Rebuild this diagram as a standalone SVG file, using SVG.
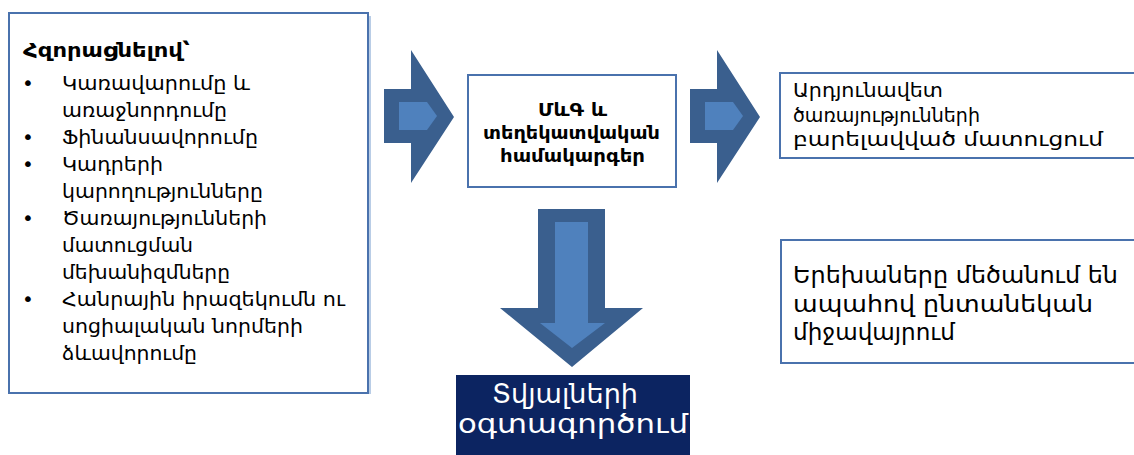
<svg xmlns="http://www.w3.org/2000/svg" width="1134" height="455" viewBox="0 0 1134 455">
  <defs>
    <style>
      .box { fill: #ffffff; stroke: #4a72ad; stroke-width: 2; }
      .arrow-out { fill: #3a5f8e; }
      .arrow-in { fill: #4f81bd; }
      .t { font-family: "DejaVu Sans", "Noto Sans", sans-serif; fill: #000000; }
      .list text { font-size: 20px; }
      .head { font-size: 20px; font-weight: bold; }
      .mid { font-size: 17px; font-weight: bold; }
      .r1 { font-size: 20px; }
      .r2 { font-size: 23px; }
      .navy-t { font-family: "DejaVu Sans", "Noto Sans", sans-serif; fill: #ffffff; font-size: 26px; }
    </style>
  </defs>
  <rect width="1134" height="455" fill="#ffffff"/>

  <!-- connectors: block arrows -->
  <g id="connectors">
    <g id="arrow-right-1">
      <path class="arrow-out" d="M384,89 H411 V50 L454,117 L411,183 V143 H384 Z"/>
      <path class="arrow-in" d="M399,102 H427 L437,116 L427,130 H399 Z"/>
    </g>
    <g id="arrow-right-2" transform="translate(306,0)">
      <path class="arrow-out" d="M384,89 H411 V50 L454,117 L411,183 V143 H384 Z"/>
      <path class="arrow-in" d="M399,102 H427 L437,116 L427,130 H399 Z"/>
    </g>
    <g id="arrow-down">
      <path class="arrow-out" d="M538,209 H605 V308 H643 L572,367 L500,308 H538 Z"/>
      <path class="arrow-in" d="M555,222 H588 V323 H605 L572,348 L540,323 H555 Z"/>
    </g>
  </g>

  <!-- left: strengthening list -->
  <g id="node-strengthening">
    <rect x="369" y="16" width="2" height="378" fill="#b9cde6"/>
    <rect class="box" x="9" y="13" width="359" height="380"/>
    <text class="t head" x="23" y="57" textLength="167" lengthAdjust="spacingAndGlyphs">Հզորացնելով՝</text>
    <g class="t list">
      <text x="22" y="90">•</text>
      <text x="62" y="90" textLength="188" lengthAdjust="spacingAndGlyphs">Կառավարումը և</text>
      <text x="62" y="117" textLength="165" lengthAdjust="spacingAndGlyphs">առաջնորդումը</text>
      <text x="22" y="144">•</text>
      <text x="62" y="144" textLength="196" lengthAdjust="spacingAndGlyphs">Ֆինանսավորումը</text>
      <text x="22" y="171">•</text>
      <text x="62" y="171" textLength="101" lengthAdjust="spacingAndGlyphs">Կադրերի</text>
      <text x="62" y="198" textLength="201" lengthAdjust="spacingAndGlyphs">կարողությունները</text>
      <text x="22" y="225">•</text>
      <text x="62" y="225" textLength="205" lengthAdjust="spacingAndGlyphs">Ծառայությունների</text>
      <text x="62" y="252" textLength="131" lengthAdjust="spacingAndGlyphs">մատուցման</text>
      <text x="62" y="279" textLength="168" lengthAdjust="spacingAndGlyphs">մեխանիզմները</text>
      <text x="22" y="306">•</text>
      <text x="62" y="306" textLength="283" lengthAdjust="spacingAndGlyphs">Հանրային իրազեկումն ու</text>
      <text x="62" y="333" textLength="241" lengthAdjust="spacingAndGlyphs">սոցիալական նորմերի</text>
      <text x="62" y="360" textLength="135" lengthAdjust="spacingAndGlyphs">ձևավորումը</text>
    </g>
  </g>

  <!-- centre: M&E information systems -->
  <g id="node-mne">
    <rect class="box" x="468" y="75" width="208" height="112"/>
    <text class="t mid" x="538" y="116" textLength="69" lengthAdjust="spacingAndGlyphs">ՄևԳ և</text>
    <text class="t mid" x="483" y="139" textLength="177" lengthAdjust="spacingAndGlyphs">տեղեկատվական</text>
    <text class="t mid" x="500" y="162" textLength="145" lengthAdjust="spacingAndGlyphs">համակարգեր</text>
  </g>

  <!-- bottom: data use -->
  <g id="node-data-use">
    <rect x="456" y="375" width="234" height="85" fill="#0c2461"/>
    <text class="navy-t" x="492" y="403" textLength="146" lengthAdjust="spacingAndGlyphs">Տվյալների</text>
    <text class="navy-t" x="458" y="433" textLength="230" lengthAdjust="spacingAndGlyphs">օգտագործում</text>
  </g>

  <!-- right: improved service delivery -->
  <g id="node-services">
    <rect class="box" x="780" y="73" width="370" height="85"/>
    <text class="t r1" x="793" y="97" textLength="150" lengthAdjust="spacingAndGlyphs">Արդյունավետ</text>
    <text class="t r1" x="793" y="122" textLength="187" lengthAdjust="spacingAndGlyphs">ծառայությունների</text>
    <text class="t r1" x="793" y="146" textLength="310" lengthAdjust="spacingAndGlyphs">բարելավված մատուցում</text>
  </g>

  <!-- right: family environment outcome -->
  <g id="node-outcome">
    <rect class="box" x="781" y="240" width="370" height="123"/>
    <text class="t r2" x="793" y="283" textLength="325" lengthAdjust="spacingAndGlyphs">Երեխաները մեծանում են</text>
    <text class="t r2" x="793" y="312" textLength="300" lengthAdjust="spacingAndGlyphs">ապահով ընտանեկան</text>
    <text class="t r2" x="793" y="340" textLength="162" lengthAdjust="spacingAndGlyphs">միջավայրում</text>
  </g>
</svg>
